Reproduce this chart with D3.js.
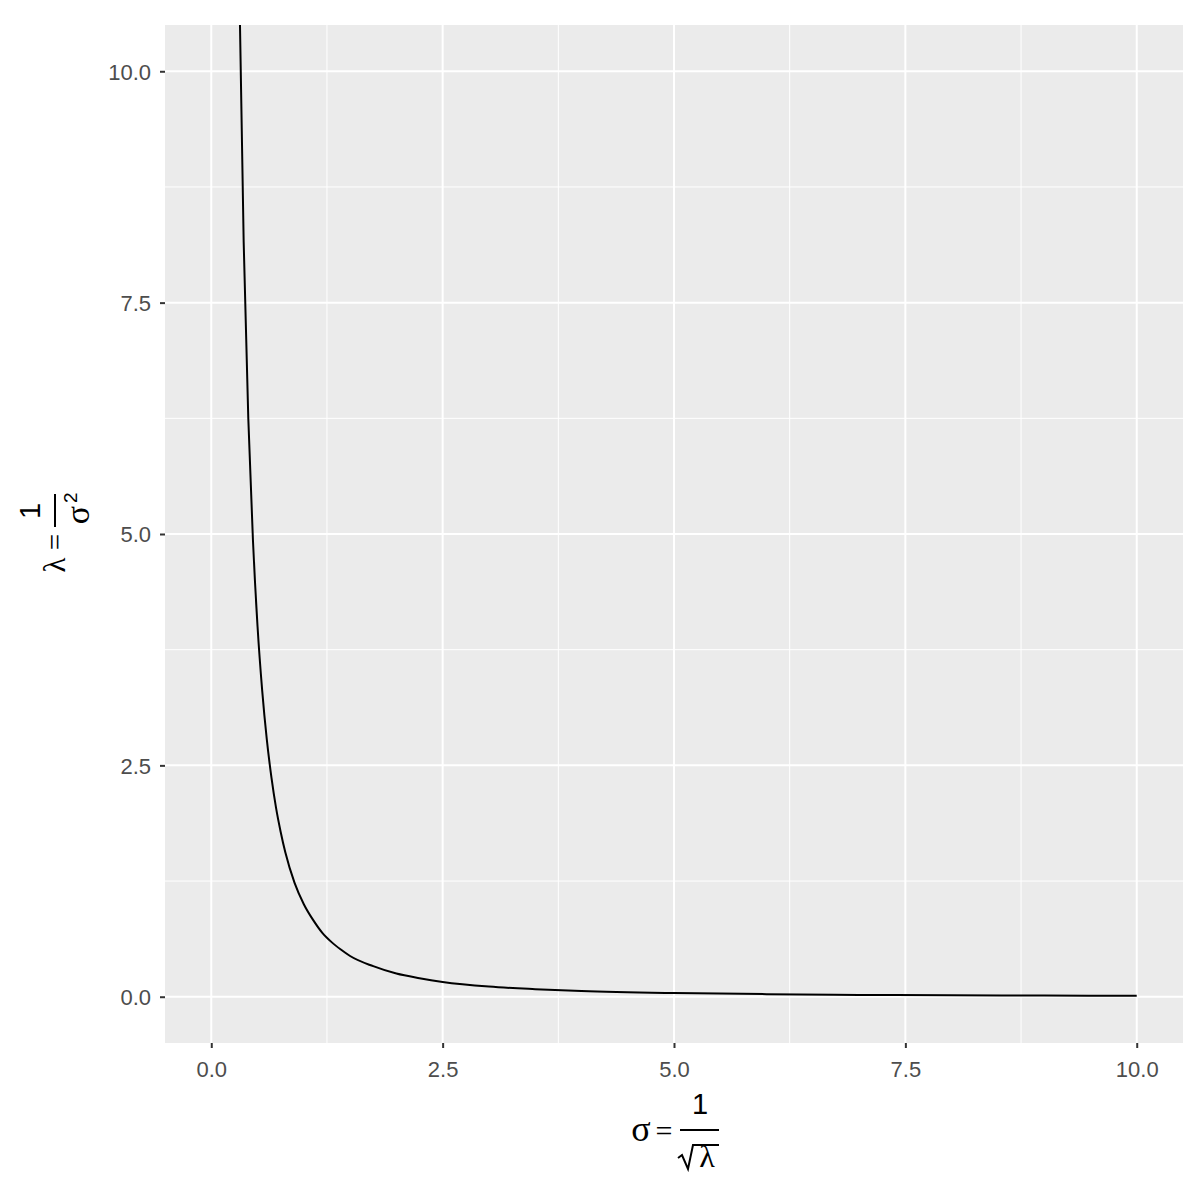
<!DOCTYPE html>
<html>
<head>
<meta charset="utf-8">
<script src="https://cdn.jsdelivr.net/npm/d3@7"></script>
<style>
  html, body { margin: 0; padding: 0; background: #ffffff; }
  svg { display: block; }
</style>
</head>
<body>
<svg id="chart" width="1200" height="1200"></svg>
<script>
// ---- data (sigma, lambda) ----
const sigmaValues  = [0.30, 0.35, 0.40, 0.45, 0.50, 0.55, 0.60, 0.65, 0.70, 0.75, 0.80, 0.90, 1.00, 1.10, 1.20, 1.30, 1.40, 1.50, 1.75, 2.00, 2.25, 2.50, 3.00, 3.50, 4.00, 5.00, 6.00, 7.00, 8.00, 9.00, 10.00];
const lambdaValues = [11.1, 8.16, 6.25, 4.94, 4.00, 3.31, 2.78, 2.37, 2.04, 1.78, 1.56, 1.23, 1.00, 0.83, 0.69, 0.59, 0.51, 0.44, 0.33, 0.25, 0.20, 0.16, 0.11, 0.082, 0.062, 0.04, 0.028, 0.02, 0.016, 0.012, 0.01];
const xTicks = [0, 2.5, 5, 7.5, 10];
const yTicks = [0, 2.5, 5, 7.5, 10];
const xMinor = [1.25, 3.75, 6.25, 8.75];
const yMinor = [1.25, 3.75, 6.25, 8.75];

const points = sigmaValues.map((s, i) => ({ x: s, y: lambdaValues[i] }));

// ---- layout ----
const panel = { left: 165, right: 1183, top: 25, bottom: 1043 };
const svg = d3.select("#chart");

const x = d3.scaleLinear().domain([-0.5, 10.5]).range([panel.left, panel.right]);
const y = d3.scaleLinear().domain([-0.5, 10.5]).range([panel.bottom, panel.top]);

// panel background
svg.append("rect")
  .attr("x", panel.left).attr("y", panel.top)
  .attr("width", panel.right - panel.left).attr("height", panel.bottom - panel.top)
  .attr("fill", "#EBEBEB");

// minor grid
svg.append("g").selectAll("line").data(xMinor).join("line")
  .attr("x1", d => x(d)).attr("x2", d => x(d))
  .attr("y1", panel.top).attr("y2", panel.bottom)
  .attr("stroke", "#ffffff").attr("stroke-width", 1);
svg.append("g").selectAll("line").data(yMinor).join("line")
  .attr("y1", d => y(d)).attr("y2", d => y(d))
  .attr("x1", panel.left).attr("x2", panel.right)
  .attr("stroke", "#ffffff").attr("stroke-width", 1);

// major grid
svg.append("g").selectAll("line").data(xTicks).join("line")
  .attr("x1", d => x(d)).attr("x2", d => x(d))
  .attr("y1", panel.top).attr("y2", panel.bottom)
  .attr("stroke", "#ffffff").attr("stroke-width", 2);
svg.append("g").selectAll("line").data(yTicks).join("line")
  .attr("y1", d => y(d)).attr("y2", d => y(d))
  .attr("x1", panel.left).attr("x2", panel.right)
  .attr("stroke", "#ffffff").attr("stroke-width", 2);

// clip
svg.append("defs").append("clipPath").attr("id", "panelClip")
  .append("rect")
  .attr("x", panel.left).attr("y", panel.top)
  .attr("width", panel.right - panel.left).attr("height", panel.bottom - panel.top);

const line = d3.line().x(d => x(d.x)).y(d => y(d.y)).curve(d3.curveMonotoneX);
svg.append("path")
  .datum(points)
  .attr("clip-path", "url(#panelClip)")
  .attr("d", line)
  .attr("fill", "none")
  .attr("stroke", "#000000")
  .attr("stroke-width", 2);

// axes
const fmt = d3.format(".1f");
const xAxis = svg.append("g")
  .attr("transform", `translate(0,${panel.bottom})`)
  .call(d3.axisBottom(x).tickValues(xTicks).tickFormat(fmt).tickSize(5).tickPadding(8));
const yAxis = svg.append("g")
  .attr("transform", `translate(${panel.left},0)`)
  .call(d3.axisLeft(y).tickValues(yTicks).tickFormat(fmt).tickSize(5).tickPadding(9));

[xAxis, yAxis].forEach(g => {
  g.select(".domain").remove();
  g.selectAll(".tick line").attr("stroke", "#333333").attr("stroke-width", 2);
  g.selectAll(".tick text")
    .attr("fill", "#4D4D4D")
    .style("font-family", "'Liberation Sans', Arial, sans-serif")
    .style("font-size", "22px");
});
xAxis.selectAll(".tick text").attr("dy", "0.95em");
yAxis.selectAll(".tick text").attr("dy", "0.36em");

// ---- x title: sigma = 1 / sqrt(lambda) ----
const serif = "'Liberation Serif', 'DejaVu Serif', serif";
const sans = "'Liberation Sans', Arial, sans-serif";
const cx = (panel.left + panel.right) / 2;
const xt = svg.append("g").attr("transform", `translate(${cx},1130)`);
xt.append("text").text("σ").attr("x", -33).attr("y", 11)
  .attr("text-anchor", "middle").style("font-family", serif).style("font-size", "36px");
xt.append("text").text("=").attr("x", -10).attr("y", 11)
  .attr("text-anchor", "middle").style("font-family", serif).style("font-size", "30px");
xt.append("line").attr("x1", 6).attr("x2", 45).attr("y1", 0).attr("y2", 0)
  .attr("stroke", "#000").attr("stroke-width", 2);
xt.append("text").text("1").attr("x", 26).attr("y", -16)
  .attr("text-anchor", "middle").style("font-family", sans).style("font-size", "29px");
xt.append("path")
  .attr("d", "M4,28 L8,25 L14,39 L19,15 L45,15")
  .attr("fill", "none").attr("stroke", "#000").attr("stroke-width", 2);
xt.append("text").text("λ").attr("x", 33).attr("y", 37)
  .attr("text-anchor", "middle").style("font-family", serif).style("font-size", "32px");

// ---- y title: lambda = 1 / sigma^2 (rotated) ----
const cy = (panel.top + panel.bottom) / 2;
const yt = svg.append("g").attr("transform", `translate(56,${cy}) rotate(-90)`);
yt.append("text").text("λ").attr("x", -31).attr("y", 9)
  .attr("text-anchor", "middle").style("font-family", serif).style("font-size", "31px");
yt.append("text").text("=").attr("x", -8).attr("y", 9)
  .attr("text-anchor", "middle").style("font-family", serif).style("font-size", "29px");
yt.append("line").attr("x1", 7).attr("x2", 40).attr("y1", -1).attr("y2", -1)
  .attr("stroke", "#000").attr("stroke-width", 2);
yt.append("text").text("1").attr("x", 23).attr("y", -16)
  .attr("text-anchor", "middle").style("font-family", sans).style("font-size", "29px");
yt.append("text").text("σ").attr("x", 19).attr("y", 33)
  .attr("text-anchor", "middle").style("font-family", serif).style("font-size", "34px");
yt.append("text").text("2").attr("x", 31).attr("y", 21)
  .attr("text-anchor", "start").style("font-family", sans).style("font-size", "19px");
</script>
</body>
</html>
